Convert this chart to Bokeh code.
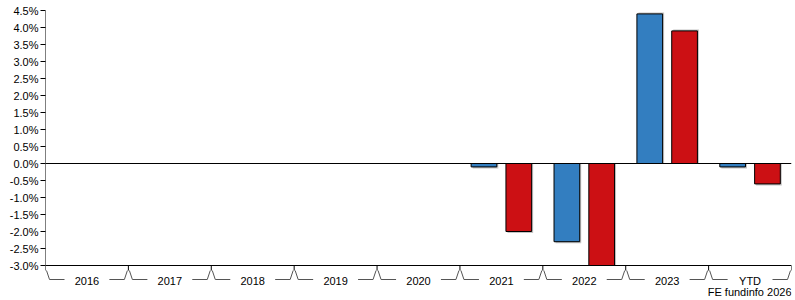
from bokeh.plotting import figure
from bokeh.models import Range1d, FixedTicker, PrintfTickFormatter, ColumnDataSource
from bokeh.core.properties import value
from bokeh.embed import file_html
from bokeh.resources import INLINE

categories = ["2016", "2017", "2018", "2019", "2020", "2021", "2022", "2023", "YTD"]
fund = [None, None, None, None, None, -0.1, -2.3, 4.4, -0.1]
sector = [None, None, None, None, None, -2.0, -3.0, 3.9, -0.6]
y_ticks = [-3.0, -2.5, -2.0, -1.5, -1.0, -0.5, 0.0, 0.5, 1.0, 1.5, 2.0, 2.5, 3.0, 3.5, 4.0, 4.5]

W, H = 795, 300
LEFT, RIGHT, TOP = 45, 4, 10
PX_PER_UNIT = 34.0
ymax, ymin_axis = 4.5, -3.0
frame_h = H - TOP
ystart = ymax - frame_h / PX_PER_UNIT
n = len(categories)
px_per_cat = (W - LEFT - RIGHT) / n

def ypx(px):
    return ymax - (px - TOP) / PX_PER_UNIT

def xpx(px):
    return px / px_per_cat

p = figure(width=W, height=H, output_backend="svg", toolbar_location=None,
           x_range=Range1d(0, n), y_range=Range1d(ystart, ymax),
           min_border_left=LEFT, min_border_right=RIGHT, min_border_top=TOP, min_border_bottom=0)
p.outline_line_color = None
p.grid.visible = False
p.xaxis.visible = False
p.yaxis.axis_line_color = None
p.yaxis.ticker = FixedTicker(ticks=y_ticks)
p.yaxis.formatter = PrintfTickFormatter(format="%.1f%%")
p.yaxis.major_tick_in = 0
p.yaxis.major_tick_out = 5
p.yaxis.minor_tick_line_color = None
p.yaxis.major_label_text_font = "Liberation Sans"
p.yaxis.major_label_text_font_size = "11px"
p.yaxis.major_label_text_color = "black"
p.yaxis.major_label_standoff = 2

off = 0.21
bw = 0.31
sh_x = xpx(1.5)
sh_y = 1.5 / PX_PER_UNIT

def bars(vals, dx, color):
    xs, tops = [], []
    for i, v in enumerate(vals):
        if v is None:
            continue
        xs.append(i + 0.5 + dx)
        tops.append(v)
    sh_tops = [t + (sh_y if t > 0 else -sh_y) for t in tops]
    sh_tops = [max(t, ymin_axis) for t in sh_tops]
    p.vbar(x=[x + sh_x for x in xs], top=sh_tops, bottom=0, width=bw,
           fill_color="#c4c4c4", line_color=None)
    p.vbar(x=xs, top=tops, bottom=0, width=bw, fill_color=color,
           line_color="black", line_width=1)

bars(fund, -off, "#337EC0")
bars(sector, off, "#CC1014")

# zero line
p.segment(x0=[0], y0=[0], x1=[n], y1=[0], line_color="black", line_width=1)
# y axis line
p.segment(x0=[0], y0=[ymin_axis], x1=[0], y1=[ymax], line_color="black", line_width=1)
# x axis line
p.segment(x0=[0], y0=[ymin_axis], x1=[n], y1=[ymin_axis], line_color="black", line_width=1)

# category boundary ticks
p.segment(x0=list(range(n + 1)), y0=[ymin_axis] * (n + 1),
          x1=list(range(n + 1)), y1=[ypx(270)] * (n + 1), line_color="black", line_width=1)

# bracket decorations
xs_list, ys_list = [], []
y_ap = ypx(270)
y_h = ypx(279)
for i in range(n):
    xs_list.append([i + xpx(1), i + xpx(4), i + xpx(19)])
    ys_list.append([y_ap, y_h, y_h])
    xs_list.append([i + 1 - xpx(1), i + 1 - xpx(4), i + 1 - xpx(19)])
    ys_list.append([y_ap, y_h, y_h])
p.multi_line(xs=xs_list, ys=ys_list, line_color="#555555", line_width=1)

src = ColumnDataSource(dict(x=[i + 0.5 for i in range(n)], y=[ypx(280)] * n, t=categories))
p.text(x="x", y="y", text="t", source=src, text_align="center", text_baseline="middle",
       text_font=value("Liberation Sans"), text_font_size="11px", text_color="black")

p.text(x=[n], y=[ypx(291)], text=["FE fundinfo 2026"], text_align="right", text_baseline="middle",
       text_font=value("Liberation Sans"), text_font_size="11px", text_color="black")

open("out.html", "w").write(file_html(p, INLINE))
